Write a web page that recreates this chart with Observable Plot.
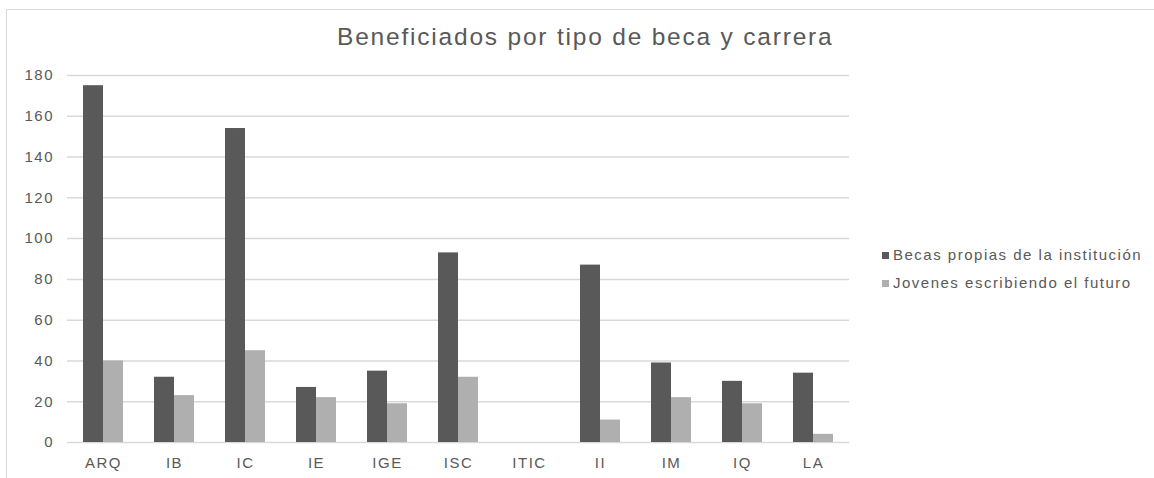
<!DOCTYPE html>
<html>
<head>
<meta charset="utf-8">
<script src="https://cdn.jsdelivr.net/npm/d3@7"></script>
<script src="https://cdn.jsdelivr.net/npm/@observablehq/plot@0.6"></script>
<style>
  html, body { margin: 0; padding: 0; background: #ffffff; }
  #wrap { position: relative; width: 1154px; height: 478px; overflow: hidden;
          font-family: "Liberation Sans", Arial, sans-serif; color: #595959; }
  #frame { position: absolute; left: 6px; top: 9px; right: -4px; bottom: -4px;
           border-top: 1.5px solid #d9d9d9; border-left: 1.5px solid #d9d9d9; }
  #title { position: relative; height: 60px; box-sizing: border-box; padding-top: 25px;
           padding-left: 337px; font-size: 24.5px; line-height: 1; letter-spacing: 1.8px;
           white-space: nowrap; }
  #chart svg text { letter-spacing: 1.5px; }
  #legend { position: absolute; left: 882px; top: 241px; font-size: 15px; letter-spacing: 1.5px; }
  #legend .row { height: 28px; line-height: 28px; white-space: nowrap; }
  #legend .sw { display: inline-block; width: 7px; height: 7px; margin-right: 4px;
                vertical-align: middle; position: relative; top: -1px; }
</style>
</head>
<body>
<div id="wrap">
  <div id="frame"></div>
  <div id="title">Beneficiados por tipo de beca y carrera</div>
  <div id="chart"></div>
  <div id="legend"></div>
</div>
<script>
const carreras = ["ARQ", "IB", "IC", "IE", "IGE", "ISC", "ITIC", "II", "IM", "IQ", "LA"];
const becasPropias = [175, 32, 154, 27, 35, 93, 0, 87, 39, 30, 34];
const jovenesFuturo = [40, 23, 45, 22, 19, 32, 0, 11, 22, 19, 4];
const seriesNames = ["Becas propias de la institución", "Jovenes escribiendo el futuro"];
const seriesColors = ["#595959", "#afafaf"];
const yTicks = [0, 20, 40, 60, 80, 100, 120, 140, 160, 180];

const dataPropias = carreras.map((c, i) => ({carrera: c, valor: becasPropias[i]}));
const dataJovenes = carreras.map((c, i) => ({carrera: c, valor: jovenesFuturo[i]}));

const chart = Plot.plot({
  width: 1154,
  height: 418,
  marginLeft: 67,
  marginRight: 305,
  marginTop: 15,
  marginBottom: 36,
  style: {fontFamily: "'Liberation Sans', Arial, sans-serif", fontSize: "15px", color: "#595959", background: "transparent"},
  x: {domain: carreras, paddingInner: 0.4375, paddingOuter: 0.21875, label: null, tickSize: 0, tickPadding: 15},
  y: {domain: [0, 180], ticks: yTicks, label: null, tickSize: 0, tickPadding: 13.5},
  marks: [
    Plot.ruleY(yTicks, {stroke: "#d9d9d9", strokeWidth: 1.5}),
    Plot.barY(dataPropias, {x: "carrera", y: "valor", fill: seriesColors[0], insetRight: 20}),
    Plot.barY(dataJovenes, {x: "carrera", y: "valor", fill: seriesColors[1], insetLeft: 20})
  ]
});
document.getElementById("chart").appendChild(chart);

const legend = document.getElementById("legend");
seriesNames.forEach((name, i) => {
  const row = document.createElement("div");
  row.className = "row";
  const sw = document.createElement("span");
  sw.className = "sw";
  sw.style.background = seriesColors[i];
  row.appendChild(sw);
  row.appendChild(document.createTextNode(name));
  legend.appendChild(row);
});
</script>
</body>
</html>
